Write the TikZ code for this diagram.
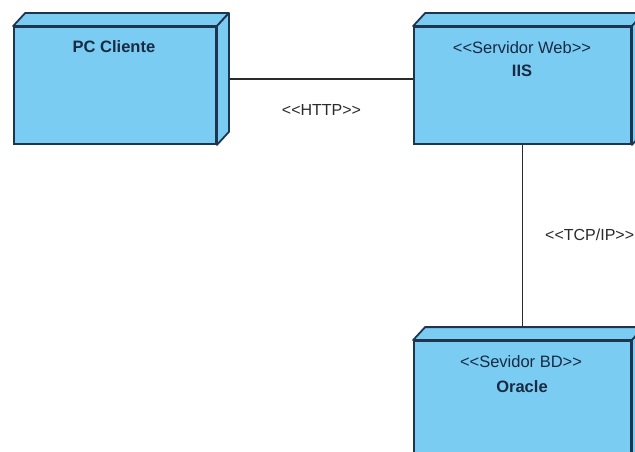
\documentclass[tikz,border=0pt]{standalone}
\usepackage{fontspec}
\setmainfont{Liberation Sans}
\definecolor{boxfill}{HTML}{7ACCF2}
\definecolor{boxline}{HTML}{1E3550}
\definecolor{txt}{HTML}{1A2A42}
\definecolor{conn}{HTML}{2A2A2A}
\tikzset{
  nodebox/.style={draw=boxline, fill=boxfill, line width=1.8pt, rectangle, inner sep=0pt, minimum height=117pt},
  stereo/.style={text=txt, inner sep=0pt, anchor=base, font=\fontsize{16.5}{19}\selectfont},
  title/.style={text=txt, inner sep=0pt, anchor=base, font=\fontsize{16.5}{19}\selectfont\bfseries},
  conlabel/.style={text=conn, inner sep=0pt, font=\fontsize{16}{19}\selectfont},
  connector/.style={draw=conn, line width=1.4pt}
}
\newcommand\lt{<\kern0pt<}
\newcommand\gt{>\kern0pt>}
\newcommand\depthfaces[1]{%
  \draw[boxline, fill=boxfill, line width=1.8pt, line join=round]
    (#1.north west) -- ++(12pt,13pt) -- ([shift={(12pt,13pt)}]#1.north east) -- (#1.north east) -- cycle;
  \draw[boxline, fill=boxfill, line width=1.8pt, line join=round]
    (#1.north east) -- ++(12pt,13pt) -- ([shift={(12pt,13pt)}]#1.south east) -- (#1.south east) -- cycle;
}
\begin{document}
\begin{tikzpicture}[x=1pt,y=-1pt]
\useasboundingbox (0,0) rectangle (635,452);
\clip (0,0) rectangle (635,452);
\fill[white] (0,0) rectangle (635,452);
% boxes
\node[nodebox, minimum width=202pt] (pc) at (115,85.5) {};
\node[nodebox, minimum width=217pt] (iis) at (522.5,85.5) {};
\node[nodebox, minimum width=217pt] (ora) at (522.5,399.5) {};
\depthfaces{pc}
\depthfaces{iis}
\depthfaces{ora}
% texts
\node[title] (pct) at (114,53) {PC Cliente};
\node[stereo] (iiss) at (522,54) {\lt Servidor Web\gt};
\node[title] (iist) at (522,77) {IIS};
\node[stereo] (oras) at (521,367) {\lt Sevidor BD\gt};
\node[title] (orat) at (522,392) {Oracle};
% connectors
\draw[connector] ([shift={(12pt,6.5pt)}]pc.east) -- ([yshift=6.5pt]iis.west);
\draw[connector] (iis.south) -- ([yshift=13pt]ora.north);
\node[conlabel, anchor=base] (http) at (321.5,116) {\lt HTTP\gt};
\node[conlabel, anchor=base west] (tcp) at (545,240) {\lt TCP/IP\gt};
\end{tikzpicture}
\end{document}
